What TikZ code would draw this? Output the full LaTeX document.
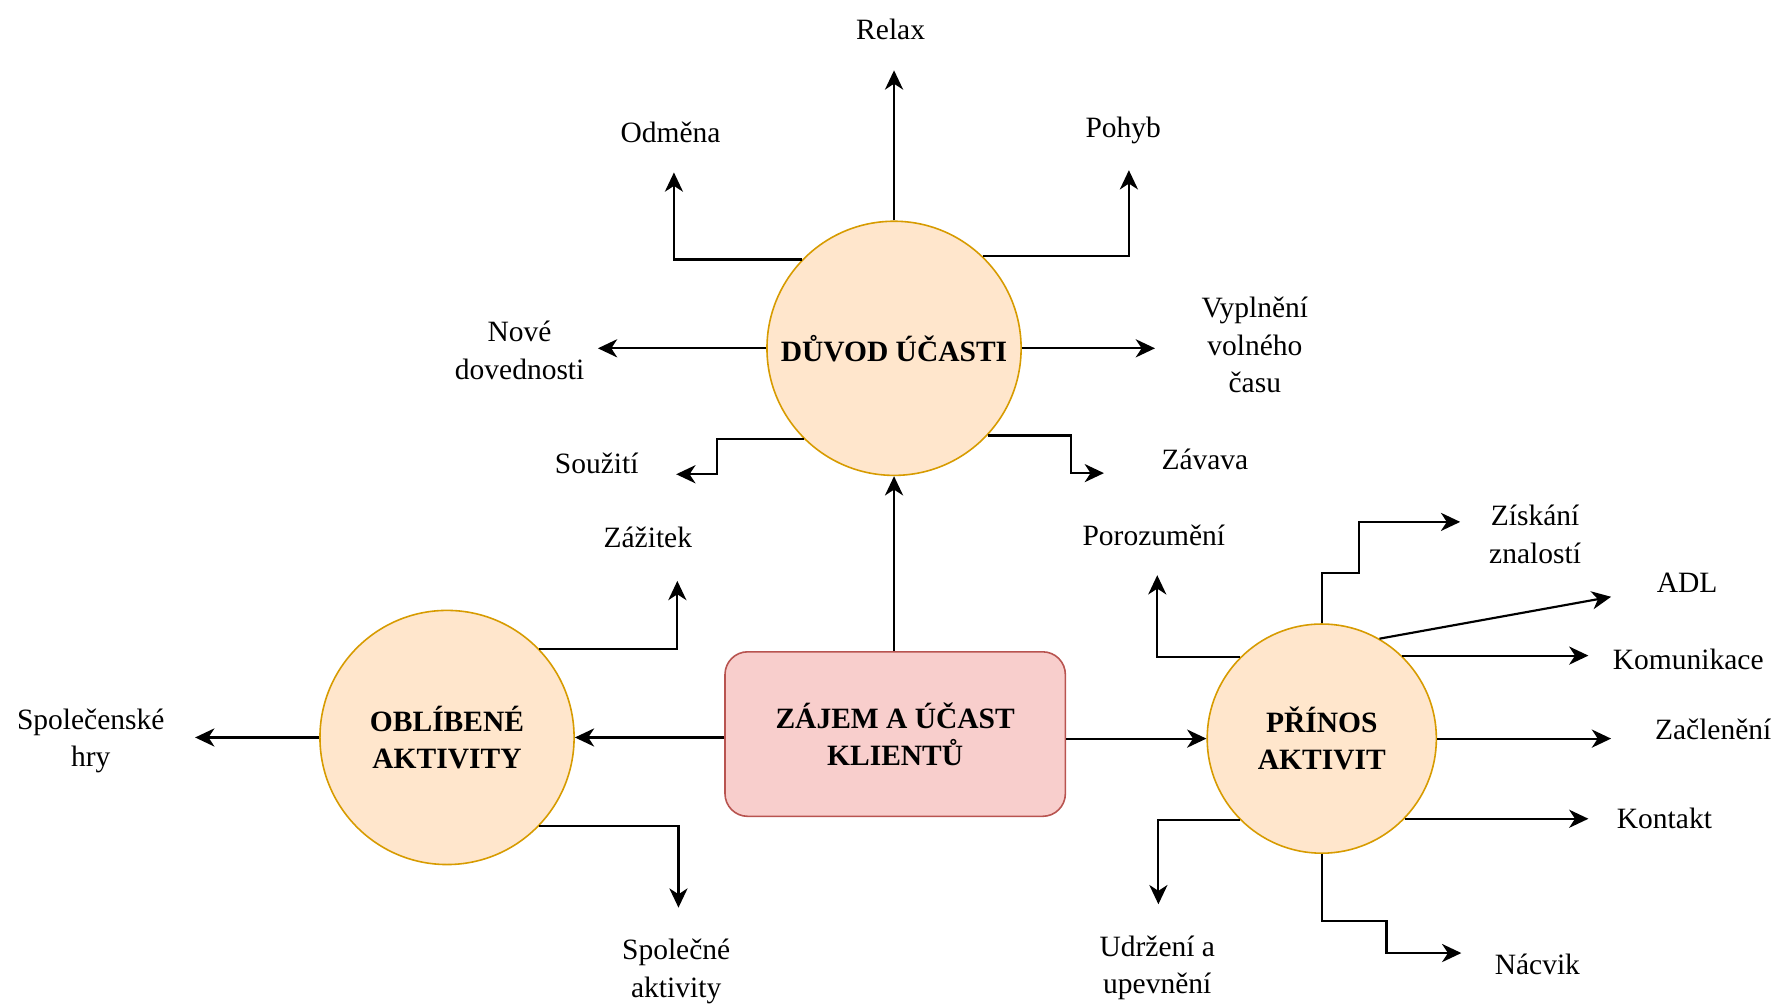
\documentclass[tikz,border=0pt]{standalone}
\usepackage{fontspec}
\setmainfont{Liberation Serif}
\usetikzlibrary{arrows.meta,calc}
\definecolor{circfill}{HTML}{FFE6CC}
\definecolor{circdraw}{HTML}{D79B00}
\definecolor{boxfill}{HTML}{F8CECC}
\definecolor{boxdraw}{HTML}{B85450}
\begin{document}
\begin{tikzpicture}[x=0.5pt,y=-0.5pt,
  font=\fontsize{13}{16.5}\selectfont,
  circ/.style={circle,draw=circdraw,fill=circfill,line width=0.7pt,
    font=\fontsize{13}{16.5}\selectfont\bfseries,align=center,inner sep=0pt},
  mainbox/.style={draw=boxdraw,fill=boxfill,line width=0.7pt,rounded corners=10pt,
    minimum width=150pt,minimum height=72.5pt,
    font=\fontsize{13}{16.5}\selectfont\bfseries,align=center},
  lbl/.style={align=center,inner sep=0pt},
  arr/.style={draw=black,line width=0.95pt,-{Stealth[length=8.5pt,width=8pt,inset=2.6pt]}}
]
\useasboundingbox (0,0) rectangle (1568,888);
\fill[white] (0,0) rectangle (1568,888);

% main nodes
\node[circ,minimum size=112pt] (d) at (788,307) {DŮVOD ÚČASTI};
\node[circ,minimum size=112pt] (o) at (394,650) {OBLÍBENÉ\\AKTIVITY};
\node[circ,minimum size=101pt] (p) at (1165,651) {PŘÍNOS\\AKTIVIT};
\node[mainbox] (r) at (789,647) {ZÁJEM A ÚČAST\\KLIENTŮ};

% labels
\node[lbl] (relax) at (785,26) {Relax};
\node[lbl] (odm) at (591,117) {Odměna};
\node[lbl] (poh) at (990,115) {Pohyb};
\node[lbl] (nov) at (458,309) {Nové\\dovednosti};
\node[lbl] (vyp) at (1106,304) {Vyplnění\\volného\\času};
\node[lbl] (sou) at (526,408) {Soužití};
\node[lbl] (zav) at (1062,405) {Závava};
\node[lbl] (zaz) at (571,474) {Zážitek};
\node[lbl] (por) at (1017,472) {Porozumění};
\node[lbl] (zisk) at (1353,471) {Získání\\znalostí};
\node[lbl] (adl) at (1487,514) {ADL};
\node[lbl] (kom) at (1488,581) {Komunikace};
\node[lbl] (zac) at (1510,643) {Začlenění};
\node[lbl] (kon) at (1467,721) {Kontakt};
\node[lbl] (spolh) at (80,653) {Společenské\\hry};
\node[lbl] (spola) at (596,856) {Společné\\aktivity};
\node[lbl] (udr) at (1020,853) {Udržení a\\upevnění};
\node[lbl] (nac) at (1355,850) {Nácvik};

% arrow tips
\coordinate (relaxT) at (788,62);
\coordinate (odmT) at (594,152);
\coordinate (pohT) at (995,150);
\coordinate (novT) at (527,307);
\coordinate (vypT) at (1018,307);
\coordinate (souT) at (596,418);
\coordinate (zavT) at (973,417);
\coordinate (zazT) at (597,512);
\coordinate (spolhT) at (172,650);
\coordinate (spolaT) at (598,800);
\coordinate (porT) at (1020,507);
\coordinate (ziskT) at (1287,460);
\coordinate (adlT) at (1420,526);
\coordinate (komT) at (1400,578);
\coordinate (zacT) at (1420,650);
\coordinate (konT) at (1400,721);
\coordinate (udrT) at (1021,797);
\coordinate (nacT) at (1288,840);

% centre connectors
\draw[arr] (r.north -| d.south) -- (d.south);
\draw[arr] (r.west |- o.east) -- (o.east);
\draw[arr] (r.east |- p.west) -- (p.west);

% DUVOD connectors
\draw[arr] (d.north) -- (relaxT);
\draw[arr] (d.136) -| (odmT);
\draw[arr] (d.46) -| (pohT);
\draw[arr] (d.west) -- (novT);
\draw[arr] (d.east) -- (vypT);
\draw[arr] (d.225) -| ($(souT)+(36,0)$) -- (souT);
\draw[arr] (d.317) -| ($(zavT)+(-29,0)$) -- (zavT);

% OBLIBENE connectors
\draw[arr] (o.44) -| (zazT);
\draw[arr] (o.west) -- (spolhT);
\draw[arr] (o.316) -| (spolaT);

% PRINOS connectors
\draw[arr] (p.135) -| (porT);
\draw[arr] (p.north) -- ++(0,-44) -| ($(ziskT)+(-89,0)$) -- (ziskT);
\draw[arr] (p.60) -- (adlT);
\draw[arr] (p.46) -- (p.46 -| komT);
\draw[arr] (p.east) -- (p.east -| zacT);
\draw[arr] (p.316) -- (p.316 -| konT);
\draw[arr] (p.225) -| (udrT);
\draw[arr] (p.south) -- ++(0,59) -| ($(nacT)+(-66,0)$) -- (nacT);
\end{tikzpicture}
\end{document}
